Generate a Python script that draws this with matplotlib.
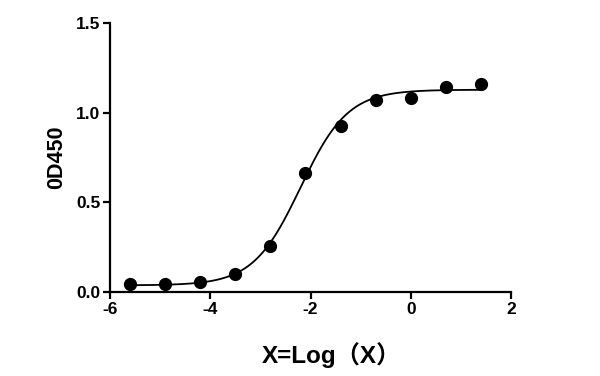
import numpy as np
import matplotlib
matplotlib.use("Agg")
import matplotlib.pyplot as plt

# -------------------------------------------------------------------
# DATA
# -------------------------------------------------------------------
log_x = [-5.6, -4.9, -4.2, -3.5, -2.8, -2.1, -1.4, -0.7, 0.0, 0.7, 1.4]
od450 = [0.045, 0.043, 0.057, 0.102, 0.258, 0.663, 0.927, 1.068, 1.080, 1.145, 1.158]

# 4PL fit parameters (bottom, top, logEC50, hill) estimated from the curve
FIT_BOTTOM = 0.037
FIT_TOP = 1.128
FIT_LOGEC50 = -2.2
FIT_HILL = 0.92

x_ticks = [-6, -4, -2, 0, 2]
y_ticks = [0.0, 0.5, 1.0, 1.5]

plt.rcParams["font.family"] = ["Liberation Sans", "Noto Sans CJK SC"]
plt.rcParams["font.weight"] = "bold"


def four_pl(x):
    return FIT_BOTTOM + (FIT_TOP - FIT_BOTTOM) / (1 + 10 ** ((FIT_LOGEC50 - x) * FIT_HILL))


fig = plt.figure(figsize=(6.0, 3.76), dpi=100)
ax = fig.add_axes([0.1833, 0.2234, 0.6684, 0.7154])

xs = np.linspace(min(log_x), max(log_x), 300)
ax.plot(xs, four_pl(xs), color="black", linewidth=1.3)
ax.plot(log_x, od450, "o", color="black", markersize=8.5)

ax.set_xlim(-6, 2)
ax.set_ylim(0, 1.5)
ax.set_xticks(x_ticks)
ax.set_yticks(y_ticks)
ax.set_xticklabels([str(t) for t in x_ticks], fontsize=12.5, fontweight="bold")
ax.set_yticklabels([f"{t:.1f}" for t in y_ticks], fontsize=12.5, fontweight="bold")

for side in ["top", "right"]:
    ax.spines[side].set_visible(False)
for side in ["left", "bottom"]:
    ax.spines[side].set_linewidth(1.6)
ax.tick_params(direction="out", length=5, width=1.6, pad=2)

ax.set_ylabel("0D450", fontsize=15.5, fontweight="bold", labelpad=6)
ax.set_xlabel("X=Log\uff08X\uff09", fontsize=17.5, fontweight="bold")
ax.xaxis.set_label_coords(0.553, -0.186)

plt.savefig("out.png", dpi=100)
